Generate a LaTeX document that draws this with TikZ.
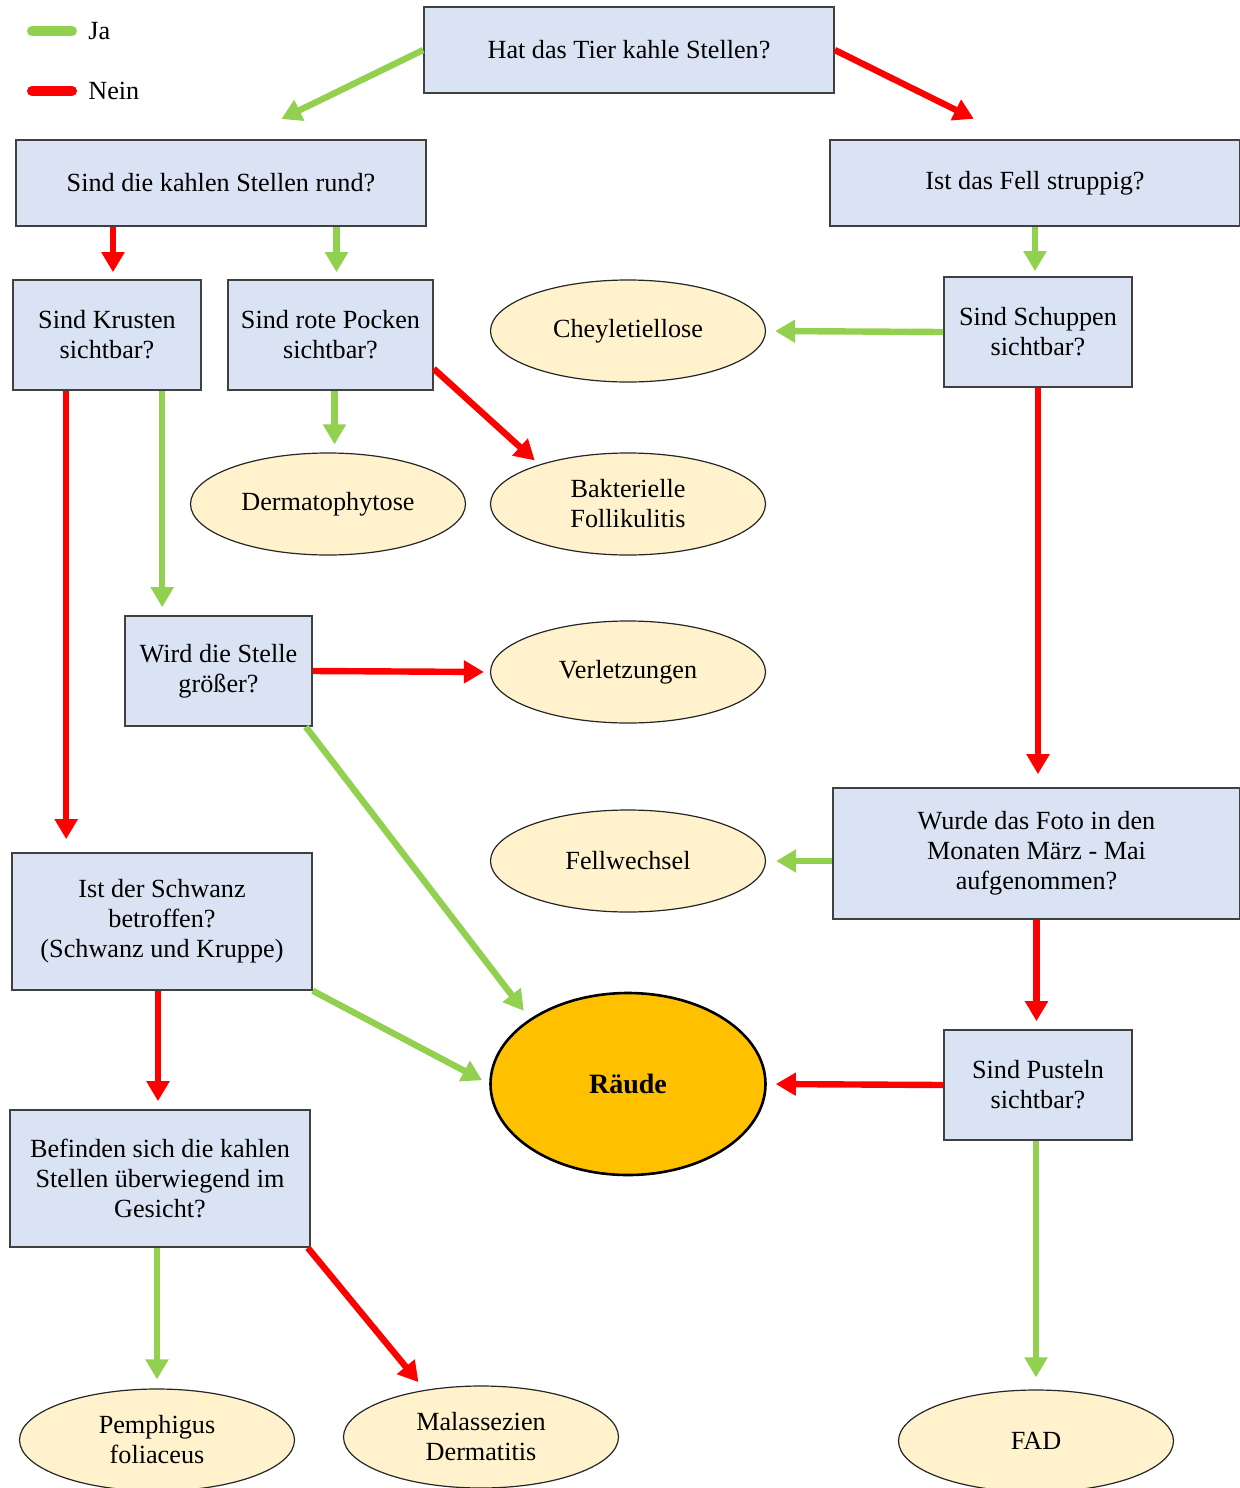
\documentclass[tikz,border=0pt]{standalone}
\usepackage{fontspec}
\setmainfont{Liberation Serif}
\usepackage{xcolor}
\usetikzlibrary{shapes.geometric, arrows.meta, positioning, calc}

\definecolor{boxblue}{HTML}{DAE3F3}
\definecolor{creamy}{HTML}{FFF2CC}
\definecolor{raeudeorange}{HTML}{FFC000}
\definecolor{jagreen}{HTML}{92D050}
\definecolor{neinred}{HTML}{FF0000}

\begin{document}
\begin{tikzpicture}[
        x=0.5pt, y=-0.5pt,
        font=\fontsize{13.1}{15}\selectfont,
        question/.style={rectangle, fill=boxblue, draw=black!75, line width=0.8pt, align=center, inner sep=2pt},
        diagnosis/.style={ellipse, fill=creamy, draw=black!85, line width=0.6pt, minimum width=137.5pt, minimum height=51pt, inner sep=0pt, align=center},
        main_diagnosis/.style={ellipse, fill=raeudeorange, draw=black, line width=1.3pt, minimum width=137.5pt, minimum height=91pt, inner sep=0pt, font=\fontsize{14}{17}\selectfont\bfseries},
        yes_arrow/.style={-{Triangle[width=11pt,length=10pt]}, line width=3.2pt, color=jagreen},
        no_arrow/.style={-{Triangle[width=11pt,length=10pt]}, line width=3.2pt, color=neinred},
        legend_line/.style={line width=5pt, line cap=round},
        legend_text/.style={anchor=west, inner sep=0pt}
    ]
    \useasboundingbox (0,0) rectangle (1240,1488);

        % legend
        \node[legend_text] (leg_ja) at (88,31) {Ja};
        \node[legend_text] (leg_nein) at (88,91) {Nein};
        \draw[legend_line, jagreen] ($(leg_ja.west)+(-16,0)$) -- ($(leg_ja.west)+(-56,0)$);
        \draw[legend_line, neinred] ($(leg_nein.west)+(-16,0)$) -- ($(leg_nein.west)+(-56,0)$);

        % questions
        \node[question, minimum width=205pt, minimum height=43pt] (q_kahl) at (629,50) {Hat das Tier kahle Stellen?};
        \node[question, minimum width=205pt, minimum height=43pt] (q_rund) at (221,183) {Sind die kahlen Stellen rund?};
        \node[question, minimum width=205pt, minimum height=43pt] (q_struppig) at (1035,183) {Ist das Fell struppig?};
        \node[question, minimum width=94pt, minimum height=55pt] (q_krusten) at (107,335) {Sind Krusten\\sichtbar?};
        \node[question, minimum width=102.5pt, minimum height=55pt] (q_pocken) at (330.5,335) {Sind rote Pocken\\sichtbar?};
        \node[question, minimum width=94pt, minimum height=55pt] (q_schuppen) at (1038,332) {Sind Schuppen\\sichtbar?};
        \node[question, minimum width=93.5pt, minimum height=55pt] (q_groesser) at (218.5,671) {Wird die Stelle\\größer?};
        \node[question, minimum width=203.5pt, minimum height=65.5pt] (q_foto) at (1036.5,853.5) {Wurde das Foto in den\\Monaten März - Mai\\aufgenommen?};
        \node[question, minimum width=150pt, minimum height=68.5pt] (q_schwanz) at (162,921.5) {Ist der Schwanz\\betroffen?\\(Schwanz und Kruppe)};
        \node[question, minimum width=94pt, minimum height=55pt] (q_pusteln) at (1038,1085) {Sind Pusteln\\sichtbar?};
        \node[question, minimum width=150pt, minimum height=68.5pt] (q_gesicht) at (160,1178.5) {Befinden sich die kahlen\\Stellen überwiegend im\\Gesicht?};

        % diagnoses
        \node[diagnosis] (d_cheyl) at (628,331) {Cheyletiellose};
        \node[diagnosis] (d_dermato) at (328,504) {Dermatophytose};
        \node[diagnosis] (d_follik) at (628,504) {Bakterielle\\Follikulitis};
        \node[diagnosis] (d_verletz) at (628,672) {Verletzungen};
        \node[diagnosis] (d_fellw) at (628,861) {Fellwechsel};
        \node[main_diagnosis] (d_raeude) at (628,1084) {Räude};
        \node[diagnosis] (d_pemph) at (157,1440) {Pemphigus\\foliaceus};
        \node[diagnosis] (d_malass) at (481,1437) {Malassezien\\Dermatitis};
        \node[diagnosis] (d_fad) at (1036,1441) {FAD};

        % connectors
        \draw[yes_arrow, shorten >=23pt] (q_kahl.west) -- ($(q_rund.north)+(19,0)$);
        \draw[no_arrow, shorten >=23pt] (q_kahl.east) -- ($(q_struppig.north)+(-20,0)$);
        \draw[no_arrow, shorten >=3.5pt] ($(q_krusten.north |- q_rund.south)+(6,0)$) -- ($(q_krusten.north)+(6,0)$);
        \draw[yes_arrow, shorten >=3.5pt] ($(q_pocken.north |- q_rund.south)+(6,0)$) -- ($(q_pocken.north)+(6,0)$);
        \draw[yes_arrow, shorten >=2.5pt] (q_struppig.south) -- (q_struppig.south |- q_schuppen.north);
        \draw[yes_arrow, shorten >=4.5pt] (q_schuppen.west) -- (d_cheyl.east);
        \draw[no_arrow, shorten >=6.5pt] ($(q_krusten.south west)+(54,0)$) -- ($(q_krusten.south west |- q_schwanz.north)+(54,0)$);
        \draw[yes_arrow, shorten >=4pt] ($(q_krusten.south west)+(150,0)$) -- ($(q_krusten.south west |- q_groesser.north)+(150,0)$);
        \draw[yes_arrow, shorten >=4pt] ($(q_pocken.south)+(4,0)$) -- ($(q_pocken.south |- d_dermato.north)+(4,0)$);
        \draw[no_arrow, shorten >=3pt] ($(q_pocken.south east)+(0,-22)$) -- (d_follik.156);
        \draw[no_arrow, shorten >=6.5pt] (q_schuppen.south) -- (q_schuppen.south |- q_foto.north);
        \draw[no_arrow, shorten >=3pt] (q_groesser.east) -- (d_verletz.west);
        \draw[yes_arrow, shorten >=5pt] ($(q_groesser.south east)+(-7,0)$) -- (d_raeude.north west);
        \draw[yes_arrow, shorten >=5pt] (d_fellw.east -| q_foto.west) -- (d_fellw.east);
        \draw[no_arrow, shorten >=4pt] (q_foto.south) -- (q_foto.south |- q_pusteln.north);
        \draw[yes_arrow, shorten >=4pt] (q_schwanz.south east) -- (d_raeude.west);
        \draw[no_arrow, shorten >=4pt] ($(q_gesicht.north |- q_schwanz.south)+(-2,0)$) -- ($(q_gesicht.north)+(-2,0)$);
        \draw[no_arrow, shorten >=4.5pt] (q_pusteln.west) -- (d_raeude.east);
        \draw[yes_arrow, shorten >=6pt] (d_fad.north |- q_pusteln.south) -- (d_fad.north);
        \draw[yes_arrow, shorten >=4.5pt] (d_pemph.north |- q_gesicht.south) -- (d_pemph.north);
        \draw[no_arrow, shorten >=5pt] ($(q_gesicht.south east)+(-3,0)$) -- (d_malass.140);

    \end{tikzpicture}
\end{document}
